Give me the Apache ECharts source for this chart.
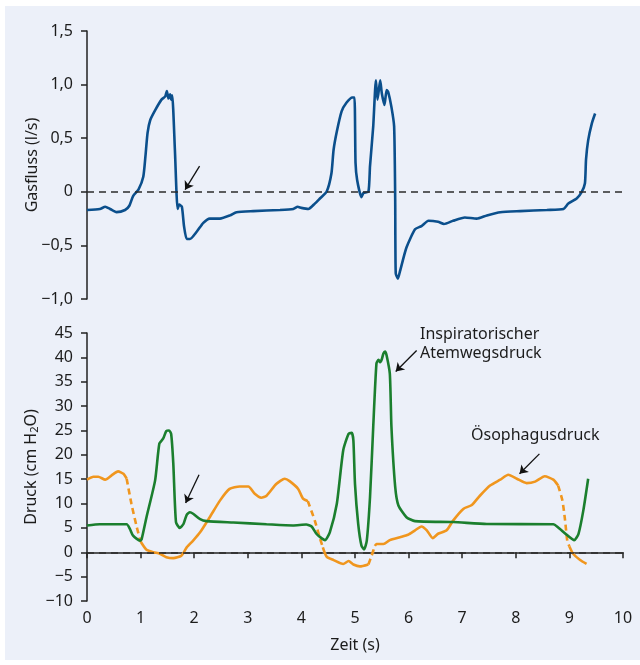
<!DOCTYPE html>
<html>
<head>
<meta charset="utf-8">
<script src="https://cdn.jsdelivr.net/npm/echarts@6/dist/echarts.min.js"></script>
<style>
  html, body { margin: 0; padding: 0; background: #fff; }
  #chart { width: 640px; height: 665px; }
</style>
</head>
<body>
<div id="chart"></div>
<script>
// Gasfluss (l/s) over Zeit (s)
var flowData = [[0,-0.17],[0.24,-0.16],[0.34,-0.14],[0.43,-0.16],[0.55,-0.19],[0.71,-0.17],[0.79,-0.13],[0.86,-0.04],
  [0.96,0.02],[1.05,0.14],[1.09,0.33],[1.13,0.55],[1.18,0.67],[1.27,0.76],[1.39,0.86],[1.46,0.89],[1.49,0.94],
  [1.52,0.87],[1.55,0.91],[1.57,0.86],[1.59,0.90],[1.64,0.39],[1.69,-0.16],[1.72,-0.12],[1.77,-0.14],[1.81,-0.32],
  [1.86,-0.44],[1.92,-0.44],[2.05,-0.37],[2.17,-0.29],[2.29,-0.25],[2.48,-0.25],[2.67,-0.22],[2.79,-0.19],[3.10,-0.18],
  [3.60,-0.17],[3.85,-0.16],[3.93,-0.14],[4.00,-0.15],[4.13,-0.16],[4.25,-0.11],[4.35,-0.06],[4.47,0.0],[4.56,0.17],
  [4.60,0.39],[4.66,0.56],[4.75,0.75],[4.84,0.83],[4.95,0.88],[4.99,0.88],[5.01,0.27],[5.04,0.11],[5.12,-0.05],
  [5.16,-0.01],[5.25,0.0],[5.28,0.24],[5.34,0.61],[5.39,1.04],[5.42,0.86],[5.47,1.04],[5.50,0.92],[5.55,0.81],
  [5.59,0.95],[5.62,0.93],[5.68,0.79],[5.73,0.61],[5.75,-0.07],[5.76,-0.76],[5.80,-0.81],[5.84,-0.74],[5.96,-0.52],
  [6.12,-0.35],[6.24,-0.32],[6.37,-0.27],[6.55,-0.28],[6.66,-0.30],[6.83,-0.27],[7.05,-0.24],[7.27,-0.25],[7.46,-0.22],
  [7.71,-0.19],[8.08,-0.18],[8.58,-0.17],[8.89,-0.16],[8.98,-0.11],[9.14,-0.06],[9.23,0.0],[9.29,0.08],[9.31,0.30],
  [9.35,0.48],[9.42,0.64],[9.48,0.73]];

// Inspiratorischer Atemwegsdruck (cm H2O)
var airwayData = [[0,5.5],[0.24,5.75],[0.74,5.75],[0.80,4.8],[0.86,3.4],[0.99,2.4],[1.02,2.7],[1.11,7.2],[1.27,14.7],
  [1.35,22.3],[1.42,23.3],[1.48,24.9],[1.53,25.0],[1.57,24.3],[1.61,18.2],[1.66,6.2],[1.73,5.0],[1.80,5.8],[1.86,7.7],
  [1.92,8.2],[1.98,7.9],[2.11,6.8],[2.23,6.4],[2.73,6.1],[3.35,5.75],[3.84,5.5],[4.09,5.7],[4.19,5.3],[4.28,3.8],
  [4.35,3.1],[4.44,2.5],[4.53,4.1],[4.66,9.9],[4.78,20.9],[4.88,24.3],[4.94,24.5],[4.97,22.9],[5.00,14.0],[5.06,5.8],
  [5.12,1.4],[5.17,0.6],[5.22,2.4],[5.28,11.3],[5.34,25.7],[5.40,38.7],[5.44,39.5],[5.47,39.0],[5.50,39.6],[5.53,40.8],
  [5.56,41.2],[5.59,40.4],[5.65,36.6],[5.68,25.7],[5.75,13.4],[5.81,9.6],[5.96,7.2],[6.12,6.4],[6.83,6.2],[7.46,5.8],
  [8.70,5.75],[8.79,5.1],[8.95,3.6],[9.09,2.5],[9.17,3.8],[9.26,8.6],[9.35,15.1]];

// Ösophagusdruck (cm H2O)
var esoData = [[0,14.9],[0.12,15.5],[0.21,15.5],[0.34,14.9],[0.46,15.8],[0.58,16.6],[0.68,16.1],[0.74,15.1],
  [0.83,9.9],[0.93,5.1],[1.0,2.2],
  [1.11,0.5],[1.24,0.0],[1.36,-0.3],[1.48,-1.0],[1.61,-1.2],[1.76,-0.7],[1.86,1.0],[1.98,2.4],[2.11,4.1],[2.29,7.2],
  [2.48,10.6],[2.66,13.0],[2.85,13.5],[3.01,13.5],[3.13,12.0],[3.25,11.2],[3.35,11.6],[3.53,14.0],[3.69,15.1],
  [3.78,14.6],[3.94,13.0],[4.03,11.0],[4.12,10.5],
  [4.25,6.5],[4.34,3.1],[4.40,1.0],
  [4.47,-0.9],[4.60,-1.6],[4.78,-2.4],[4.88,-1.8],[4.97,-2.5],[5.09,-2.9],[5.25,-2.5],
  [5.31,-0.7],[5.37,1.3],
  [5.40,1.7],[5.53,1.7],[5.65,2.5],[5.84,3.1],[5.99,3.6],[6.12,4.5],[6.24,5.3],[6.34,4.5],[6.45,2.9],[6.55,3.8],
  [6.71,4.5],[6.83,6.5],[7.02,8.9],[7.18,9.7],[7.33,11.6],[7.52,13.7],[7.71,14.9],[7.86,15.9],[8.02,15.1],[8.20,14.2],
  [8.36,14.5],[8.54,15.6],[8.70,14.9],[8.79,13.7],
  [8.87,10.6],[8.92,6.5],[8.96,2.4],[9.00,1.2],
  [9.07,-0.3],[9.20,-1.6],[9.32,-2.4]];
// stretches of the esophageal trace drawn dashed
var esoDashedSpans = [[0.74,1.0],[4.12,4.40],[5.25,5.37],[8.79,9.0]];

var flowTicks = ['−1,0','−0,5','0','0,5','1,0','1,5'];
var pressureTicks = ['−10','−5','0','5','10','15','20','25','30','35','40','45'];

// annotation arrows: [tail, tip] in data units
var flowArrow = [[2.10,0.24],[1.83,0.02]];
var pressArrows = [
  [[2.09,15.9],[1.84,10.1]],
  [[6.15,41.4],[5.76,37.1]],
  [[8.44,20.2],[8.07,16.1]]
];

function inSpan(t) {
  for (var i = 0; i < esoDashedSpans.length; i++) {
    if (t > esoDashedSpans[i][0] && t < esoDashedSpans[i][1]) return true;
  }
  return false;
}
function onSpan(t) {
  for (var i = 0; i < esoDashedSpans.length; i++) {
    if (t >= esoDashedSpans[i][0] && t <= esoDashedSpans[i][1]) return i;
  }
  return -1;
}
var esoSolid = [], esoDashed = [];
var lastBreak = false;
esoData.forEach(function (p) {
  if (inSpan(p[0])) {
    if (!lastBreak) { esoSolid.push([p[0], '-']); lastBreak = true; }
  } else {
    esoSolid.push(p); lastBreak = false;
  }
});
var prevSpan = -1;
esoData.forEach(function (p) {
  var s = onSpan(p[0]);
  if (s >= 0) {
    if (prevSpan >= 0 && s !== prevSpan) esoDashed.push([p[0], '-']);
    esoDashed.push(p);
    prevSpan = s;
  }
});

function arrowLine(a) {
  return [{ coord: a[0], symbol: 'none' }, { coord: a[1], symbol: 'arrow' }];
}
function zeroLine() {
  return [{ coord: [0, 0], symbol: 'none' }, { coord: [10, 0], symbol: 'none',
    lineStyle: { type: [7, 5], color: '#2b2b2b', width: 1.6 } }];
}

var FONT = 'Noto Sans';
var FS = 16;
var TXT = '#1c1c1c';
var AX = '#222';

var dom = document.getElementById('chart');
var myChart = echarts.init(dom, null, { renderer: 'canvas' });

var option = {
  backgroundColor: '#fff',
  animation: false,
  textStyle: { fontFamily: FONT },
  graphic: [
    { type: 'rect', z: -10, shape: { x: 5, y: 6, width: 635, height: 654 }, style: { fill: '#ecf0f9' } },
    { type: 'text', left: 420, top: 325, style: { text: 'Inspiratorischer\nAtemwegsdruck', font: FS + 'px "Noto Sans"', fill: TXT, lineHeight: 19 } },
    { type: 'text', left: 471, top: 427, style: { text: 'Ösophagusdruck', font: FS + 'px "Noto Sans"', fill: TXT } }
  ],
  grid: [
    { left: 87, right: 17, top: 31, height: 268 },
    { left: 87, right: 17, top: 333, height: 268 }
  ],
  xAxis: [
    { type: 'value', gridIndex: 0, min: 0, max: 10, interval: 1, show: false },
    {
      type: 'value', gridIndex: 1, min: 0, max: 10, interval: 1,
      name: 'Zeit (s)', nameLocation: 'middle', nameGap: 36, nameMoveOverlap: false,
      nameTextStyle: { fontSize: FS, color: TXT, fontFamily: FONT },
      axisLine: { lineStyle: { color: AX, width: 1.5 } },
      axisTick: { length: 6, lineStyle: { color: AX, width: 1.5 } },
      axisLabel: { fontSize: FS, color: TXT, margin: 9, fontFamily: FONT },
      splitLine: { show: false }
    }
  ],
  yAxis: [
    {
      type: 'value', gridIndex: 0, min: -1, max: 1.5, interval: 0.5,
      name: 'Gasfluss (l/s)', nameLocation: 'middle', nameGap: 47, nameRotate: 90, nameMoveOverlap: false,
      nameTextStyle: { fontSize: FS, color: TXT, fontFamily: FONT },
      axisLine: { show: true, lineStyle: { color: AX, width: 1.5 } },
      axisTick: { show: true, length: 6, lineStyle: { color: AX, width: 1.5 } },
      axisLabel: {
        fontSize: FS, color: TXT, margin: 14, fontFamily: FONT,
        formatter: function (v) { return flowTicks[Math.round((v + 1) / 0.5)]; }
      },
      splitLine: { show: false }
    },
    {
      type: 'value', gridIndex: 1, min: -10, max: 45, interval: 5,
      name: 'Druck (cm H{sub|2}O)', nameLocation: 'middle', nameGap: 47, nameRotate: 90, nameMoveOverlap: false,
      nameTextStyle: {
        fontSize: FS, color: TXT, fontFamily: FONT,
        rich: { sub: { fontSize: 11, color: TXT, fontFamily: FONT, padding: [7, 0, 0, 0] } }
      },
      axisLine: { show: true, lineStyle: { color: AX, width: 1.5 } },
      axisTick: { show: true, length: 6, lineStyle: { color: AX, width: 1.5 } },
      axisLabel: {
        fontSize: FS, color: TXT, margin: 14, fontFamily: FONT,
        formatter: function (v) { return pressureTicks[Math.round((v + 10) / 5)]; }
      },
      splitLine: { show: false }
    }
  ],
  series: [
    {
      name: 'Gasfluss', type: 'line', xAxisIndex: 0, yAxisIndex: 0,
      data: flowData, showSymbol: false, smooth: 0.2,
      lineStyle: { color: '#0b4f8c', width: 2.6 },
      markLine: {
        silent: true, symbolSize: 8, label: { show: false },
        lineStyle: { color: '#111', width: 1.3, type: 'solid' },
        data: [zeroLine(), arrowLine(flowArrow)]
      },
      z: 3
    },
    {
      name: 'Ösophagusdruck', type: 'line', xAxisIndex: 1, yAxisIndex: 1,
      data: esoSolid, showSymbol: false, smooth: 0.2, connectNulls: false,
      lineStyle: { color: '#f0961e', width: 2.6 },
      markLine: {
        silent: true, symbolSize: 8, label: { show: false },
        lineStyle: { color: '#111', width: 1.3, type: 'solid' },
        data: [zeroLine()].concat(pressArrows.map(arrowLine))
      },
      z: 2
    },
    {
      name: 'Ösophagusdruck (gestrichelt)', type: 'line', xAxisIndex: 1, yAxisIndex: 1,
      data: esoDashed, showSymbol: false, smooth: 0.2, connectNulls: false,
      lineStyle: { color: '#f0961e', width: 2.6, type: [6, 4] },
      z: 2
    },
    {
      name: 'Atemwegsdruck', type: 'line', xAxisIndex: 1, yAxisIndex: 1,
      data: airwayData, showSymbol: false, smooth: 0.2,
      lineStyle: { color: '#1b7f2e', width: 2.6 },
      z: 3
    }
  ]
};

myChart.setOption(option);
window.addEventListener('resize', myChart.resize);
</script>
</body>
</html>
